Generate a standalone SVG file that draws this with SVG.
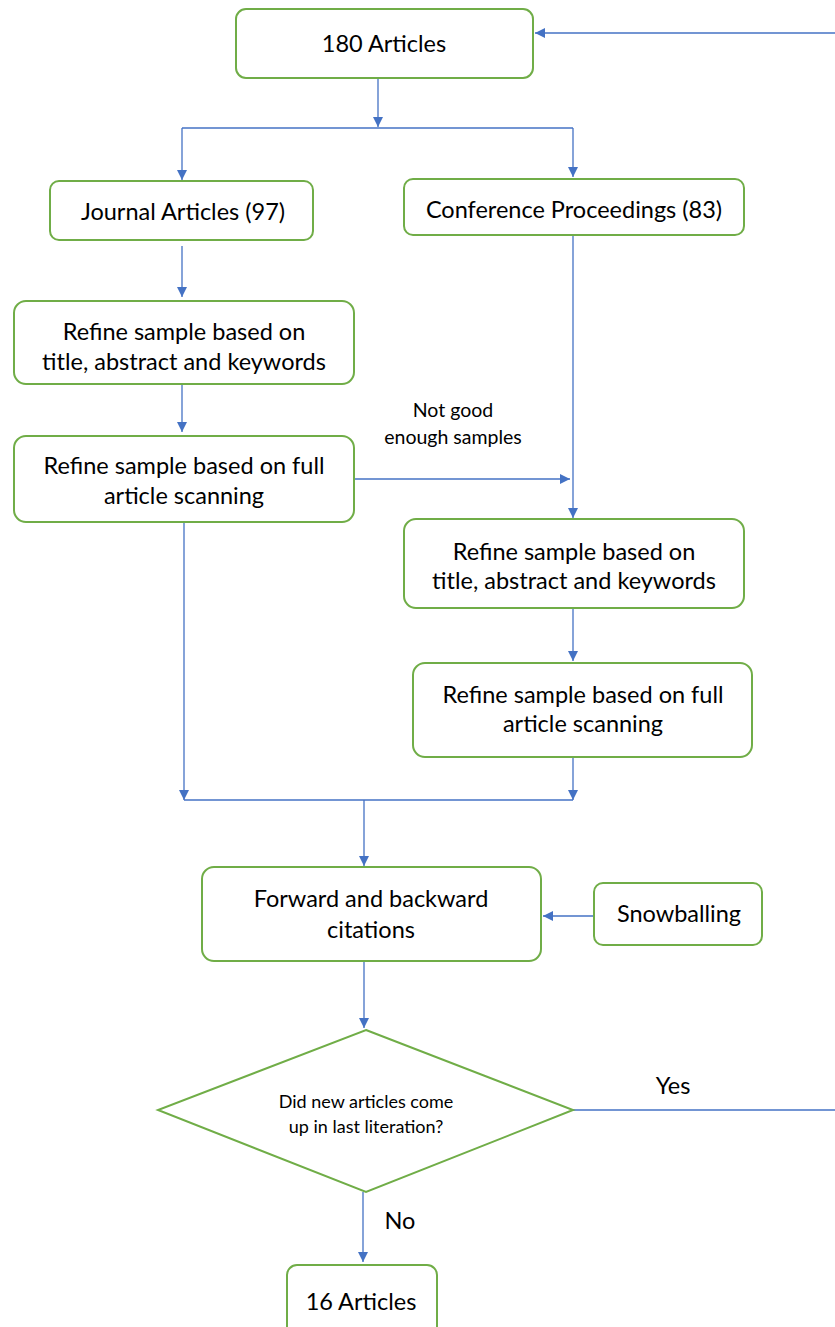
<svg xmlns="http://www.w3.org/2000/svg" width="835" height="1327" viewBox="0 0 835 1327">
<defs>
<style>
.box{fill:#fff;stroke:#70AD47;stroke-width:2}
.t{font-family:Lato,"Open Sans",sans-serif;font-size:23.5px;fill:#000;text-anchor:middle}
.s{font-family:Lato,"Open Sans",sans-serif;font-size:19.5px;fill:#000;text-anchor:middle}
.d{font-family:Lato,"Open Sans",sans-serif;font-size:18px;fill:#000;text-anchor:middle}
.c{fill:none;stroke:#4472C4;stroke-width:1.3}
</style>
<marker id="ah" viewBox="0 0 10 10" refX="10" refY="5" markerWidth="10" markerHeight="10" markerUnits="userSpaceOnUse" orient="auto">
<path d="M0,0 L10,5 L0,10 z" fill="#4472C4"/>
</marker>
</defs>
<rect width="835" height="1327" fill="#fff"/>
<g id="connectors">
<path class="c" d="M378,78 V127" marker-end="url(#ah)"/>
<path class="c" d="M182,128 H573"/>
<path class="c" d="M182,128 V180" marker-end="url(#ah)"/>
<path class="c" d="M573,128 V177" marker-end="url(#ah)"/>
<path class="c" d="M182,246 V297" marker-end="url(#ah)"/>
<path class="c" d="M182,384 V432" marker-end="url(#ah)"/>
<path class="c" d="M354,479 H570" marker-end="url(#ah)"/>
<path class="c" d="M573,235 V518" marker-end="url(#ah)"/>
<path class="c" d="M573,608 V661" marker-end="url(#ah)"/>
<path class="c" d="M573,757 V800" marker-end="url(#ah)"/>
<path class="c" d="M184,522 V800" marker-end="url(#ah)"/>
<path class="c" d="M184,800 H573"/>
<path class="c" d="M364,800 V866" marker-end="url(#ah)"/>
<path class="c" d="M594,916 H543" marker-end="url(#ah)"/>
<path class="c" d="M364,961 V1028" marker-end="url(#ah)"/>
<path class="c" d="M573,1110 H835"/>
<path class="c" d="M835,33 H535" marker-end="url(#ah)"/>
<path class="c" d="M363,1192 V1262" marker-end="url(#ah)"/>
<text class="s" x="453" y="417">Not good</text>
<text class="s" x="453" y="444">enough samples</text>
<text class="t" x="673" y="1094">Yes</text>
<text class="t" x="400" y="1229">No</text>
</g>
<g id="n180">
<rect class="box" x="236" y="9" width="297" height="69" rx="10"/>
<text class="t" x="384" y="52">180 Articles</text>
</g>
<g id="journal">
<rect class="box" x="50" y="181" width="263" height="59" rx="9"/>
<text class="t" x="183" y="220">Journal Articles (97)</text>
</g>
<g id="conference">
<rect class="box" x="404" y="179" width="340" height="56" rx="9"/>
<text class="t" x="574" y="218">Conference Proceedings (83)</text>
</g>
<g id="refineJ1">
<rect class="box" x="14" y="301" width="340" height="83" rx="12"/>
<text class="t" x="184" y="340">Refine sample based on</text>
<text class="t" x="184" y="370">title, abstract and keywords</text>
</g>
<g id="refineJ2">
<rect class="box" x="14" y="436" width="340" height="86" rx="12"/>
<text class="t" x="184" y="474">Refine sample based on full</text>
<text class="t" x="184" y="504">article scanning</text>
</g>
<g id="refineC1">
<rect class="box" x="404" y="519" width="340" height="89" rx="12"/>
<text class="t" x="574" y="560">Refine sample based on</text>
<text class="t" x="574" y="589">title, abstract and keywords</text>
</g>
<g id="refineC2">
<rect class="box" x="413" y="663" width="339" height="94" rx="12"/>
<text class="t" x="583" y="703">Refine sample based on full</text>
<text class="t" x="583" y="732">article scanning</text>
</g>
<g id="forward">
<rect class="box" x="202" y="867" width="339" height="94" rx="12"/>
<text class="t" x="371" y="907">Forward and backward</text>
<text class="t" x="371" y="938">citations</text>
</g>
<g id="snowballing">
<rect class="box" x="594" y="883" width="168" height="62" rx="9"/>
<text class="t" x="679" y="922">Snowballing</text>
</g>
<g id="decision">
<polygon class="box" points="366,1030 573,1110 366,1192 158,1110"/>
<text class="d" x="366" y="1108">Did new articles come</text>
<text class="d" x="366" y="1133">up in last literation?</text>
</g>
<g id="n16">
<rect class="box" x="287" y="1265" width="150" height="72" rx="10"/>
<text class="t" x="361" y="1310">16 Articles</text>
</g>
</svg>
